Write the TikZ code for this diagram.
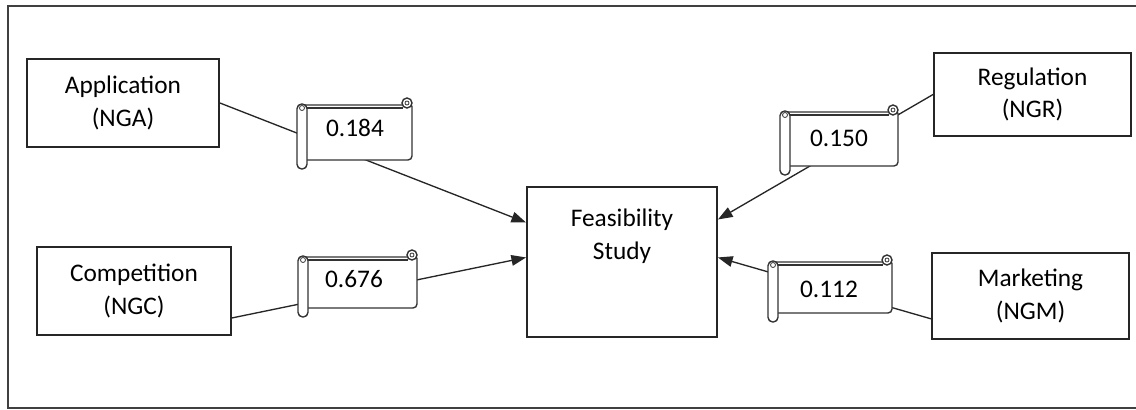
\documentclass[tikz,border=0pt]{standalone}
\usepackage{fontspec}
\setmainfont{Carlito}
\usetikzlibrary{arrows.meta,calc}
\newcommand\scrolldeco[4]{%
 \begin{scope}[shift={(#1,#2)}]
  \filldraw[scr] (5,0) [rounded corners=1pt] -- (#3,0) [rounded corners=3pt] -- (#3,#4) [sharp corners] -- (5,#4) -- cycle;
  \draw[scr] (10,3) -- ({#3-9},3);
  \filldraw[scr] ({#3-5},-2) circle[radius=5];
  \draw[scr,line width=0.6pt] ({#3-5},-2) circle[radius=2];
  \filldraw[scr,rounded corners=3.5pt] (0,-1) rectangle (10,{#4+9});
  \draw[scr,line width=0.6pt] (5,3) circle[radius=2.5];
 \end{scope}}
\begin{document}
\begin{tikzpicture}[x=0.75pt,y=-0.75pt,
  txt/.style={font=\fontsize{19}{24.5}\selectfont},
  box/.style={txt, draw=black!85, line width=1.4pt, align=center, inner sep=0pt},
  val/.style={txt, inner sep=0pt},
  scr/.style={draw=black!80, fill=white, line width=1.05pt},
  arr/.style={draw=black!85, line width=1pt, -{Triangle[length=11pt,width=8pt]}}]
\useasboundingbox (0,0) rectangle (1136,410);
\draw[draw=black!75, line width=1.3pt] (8,6) rectangle (1150,408);

\node[box, minimum width=144pt, minimum height=66pt] (app) at (123,103) {Application\\(NGA)};
\node[box, minimum width=145.5pt, minimum height=66pt] (comp) at (134,291) {Competition\\(NGC)};
\node[box, minimum width=147.75pt, minimum height=62.25pt] (reg) at (1032.5,94.5) {Regulation\\(NGR)};
\node[box, minimum width=147.75pt, minimum height=64.5pt] (mkt) at (1030.5,296) {Marketing\\(NGM)};
\node[box, minimum width=142.5pt, minimum height=112.5pt, text height=14pt, text depth=18pt] (feas) at (622,262) {Feasibility\\Study};

\draw[arr] (app.east) -- ($(feas.north west)!0.24!(feas.south west)$);
\draw[arr] ($(comp.north east)!0.8!(comp.south east)$) -- ($(feas.north west)!0.47!(feas.south west)$);
\draw[arr] (reg.west) -- ($(feas.north east)!0.22!(feas.south east)$);
\draw[arr] ($(mkt.north west)!0.76!(mkt.south west)$) -- ($(feas.north east)!0.47!(feas.south east)$);

\scrolldeco{297}{105}{115}{55}
\node[val] (s1) at (355,128) {0.184};
\scrolldeco{298}{257}{119}{51}
\node[val] (s2) at (354,279) {0.676};
\scrolldeco{780}{112}{118}{54}
\node[val] (s3) at (839,138) {0.150};
\scrolldeco{768}{262}{124}{51}
\node[val] (s4) at (829,289) {0.112};
\end{tikzpicture}
\end{document}
